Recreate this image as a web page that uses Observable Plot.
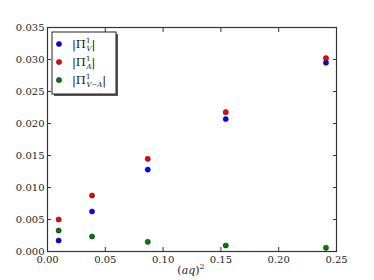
<!DOCTYPE html>
<html>
<head>
<meta charset="utf-8">
<script src="https://cdn.jsdelivr.net/npm/d3@7"></script>
<script src="https://cdn.jsdelivr.net/npm/@observablehq/plot@0.6"></script>
<style>
  html, body { margin: 0; padding: 0; background: white; }
</style>
</head>
<body>
<div id="chart"></div>
<script>
// (aq)^2 positions
const aq2 = [0.00964, 0.03855, 0.08674, 0.1542, 0.2409];
// series values
const piV  = [0.00172, 0.00625, 0.0128, 0.0207, 0.0295];
const piA  = [0.0050, 0.00875, 0.01448, 0.02177, 0.0302];
const piVA = [0.00328, 0.00234, 0.00151, 0.00094, 0.00058];
const seriesKeys = ["V", "A", "V-A"];
const seriesColors = ["#0000ff", "#ff0000", "#007f00"];
// ticks
const xTicks = [0, 0.05, 0.10, 0.15, 0.20, 0.25];
const xTickLabels = ["0.00", "0.05", "0.10", "0.15", "0.20", "0.25"];
const yTicks = [0, 0.005, 0.010, 0.015, 0.020, 0.025, 0.030, 0.035];
const yTickLabels = ["0.000", "0.005", "0.010", "0.015", "0.020", "0.025", "0.030", "0.035"];

const seriesVals = [piV, piA, piVA];
const data = [];
seriesKeys.forEach((k, s) => aq2.forEach((x, i) => data.push({series: k, x, y: seriesVals[s][i]})));

const font = "DejaVu Serif";
const axisColor = "#333";
const fmtX = d => xTickLabels[xTicks.findIndex(t => Math.abs(t - d) < 1e-9)];
const fmtY = d => yTickLabels[yTicks.findIndex(t => Math.abs(t - d) < 1e-9)];

const chart = Plot.plot({
  width: 374,
  height: 280,
  marginLeft: 47,
  marginRight: 38,
  marginTop: 27,
  marginBottom: 29,
  style: {fontFamily: font, fontSize: "10px", background: "white", color: "#222"},
  x: {domain: [0, 0.25]},
  y: {domain: [0, 0.035]},
  color: {domain: seriesKeys, range: seriesColors},
  marks: [
    Plot.axisX(xTicks, {anchor: "bottom", tickSize: -4, tickFormat: () => "", stroke: axisColor, label: null}),
    Plot.axisX(xTicks, {anchor: "top", tickSize: -4, tickFormat: () => "", stroke: axisColor, label: null}),
    Plot.axisY(yTicks, {anchor: "left", tickSize: -4, tickFormat: () => "", stroke: axisColor, label: null}),
    Plot.axisY(yTicks, {anchor: "right", tickSize: -4, tickFormat: () => "", stroke: axisColor, label: null}),
    Plot.axisX(xTicks, {anchor: "bottom", tickSize: 0, tickPadding: 4, tickFormat: fmtX, fontSize: 10, fontFamily: font, fill: "#222", label: null}),
    Plot.axisY(yTicks, {anchor: "left", tickSize: 0, tickPadding: 3, tickFormat: fmtY, fontSize: 10, fontFamily: font, fill: "#222", label: null}),
    Plot.frame({stroke: axisColor, strokeWidth: 1.2}),
    Plot.dot(data, {x: "x", y: "y", fill: "series", stroke: "#111", strokeWidth: 0.5, r: 2.6})
  ]
});

document.getElementById("chart").appendChild(chart);

const svg = d3.select(chart);
// x label
const xl = svg.append("text")
  .attr("x", 191).attr("y", 274)
  .attr("text-anchor", "middle")
  .attr("font-family", font).attr("font-size", 11).attr("fill", "#222");
xl.append("tspan").text("(");
xl.append("tspan").attr("font-style", "italic").text("aq");
xl.append("tspan").text(")");
xl.append("tspan").attr("font-size", 8).attr("dy", -5).text("2");

// legend
const lg = svg.append("g").attr("font-family", font).attr("fill", "#111").attr("text-anchor", "start");
lg.append("rect").attr("x", 54).attr("y", 34).attr("width", 64).attr("height", 62).attr("fill", "#555");
lg.append("rect").attr("x", 52).attr("y", 32).attr("width", 64).attr("height", 62).attr("fill", "white").attr("stroke", "#222").attr("stroke-width", 1);
const subs = ["V", "A", "V\u2212A"];
seriesKeys.forEach((k, i) => {
  const cy = 44 + i * 18;
  lg.append("circle").attr("cx", 59).attr("cy", cy).attr("r", 2.6)
    .attr("fill", seriesColors[i]).attr("stroke", "#111").attr("stroke-width", 0.5);
  const t = lg.append("text").attr("x", 72).attr("y", cy + 4).attr("font-size", 11.5).attr("text-anchor", "start");
  t.append("tspan").text("|\u03a0");
  t.append("tspan").attr("font-size", 7).attr("dy", -5).text("1");
  t.append("tspan").attr("font-size", 7).attr("font-style", "italic").attr("dx", -4).attr("dy", 8).text(subs[i]);
  t.append("tspan").attr("dy", -3).text("|");
});
</script>
</body>
</html>
